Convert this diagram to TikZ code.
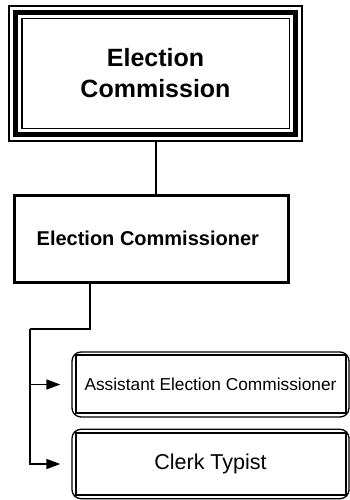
\documentclass[tikz,border=0pt]{standalone}
\usepackage{fontspec}
\setmainfont{Liberation Sans}
\usetikzlibrary{arrows.meta}
\begin{document}
\begin{tikzpicture}[x=1pt,y=-1pt,
  conn/.style={line width=1.6pt},
  arr/.style={line width=1.6pt,-{Triangle[length=14pt,width=10pt]},shorten >=11pt},
  topbox/.style={draw,line width=1.5pt,minimum width=293pt,minimum height=135pt,inner sep=0pt,align=center,font=\fontsize{25}{31}\selectfont\bfseries},
  midbox/.style={draw,line width=3pt,minimum width=274pt,minimum height=87pt,inner sep=0pt,font=\fontsize{20}{24}\selectfont\bfseries},
  outbox/.style={draw,line width=1.3pt,rounded corners=9pt,minimum width=277pt,inner sep=0pt},
  inbox/.style={line width=2pt}]
\useasboundingbox (0,0) rectangle (350,500);
% top box
\node[topbox] (top) at (155.5,73.5) {Election\\Commission};
\draw[line width=5pt] ([shift={(7,7)}]top.north west) rectangle ([shift={(-7,-7)}]top.south east);
\draw[line width=1.5pt] ([shift={(13.5,13.5)}]top.north west) rectangle ([shift={(-13.5,-13.5)}]top.south east);
% middle box
\node[midbox] (ecm) at (151.8,238.8) {\hspace*{-8pt}Election Commissioner};
% bottom boxes
\node[outbox,minimum height=65pt,font=\fontsize{17.3}{20}\selectfont] (aec) at (210.5,384.5) {Assistant Election Commissioner};
\draw[inbox] ([shift={(5,3.5)}]aec.north west) rectangle ([shift={(-3.5,-5)}]aec.south east);
\node[outbox,minimum height=69.4pt,font=\fontsize{21.5}{25}\selectfont] (clk) at (210.5,464) {Clerk Typist};
\draw[inbox] ([shift={(5,4)}]clk.north west) rectangle ([shift={(-3.5,-4.7)}]clk.south east);
% connectors
\draw[conn] (top.south -| 156,0) -- (ecm.north -| 156,0);
\coordinate (j) at (30,329);
\draw[conn] (ecm.south -| 90,0) |- (j);
\draw[arr] (j) |- (aec.west);
\draw[arr] (j) |- (clk.west);
\end{tikzpicture}
\end{document}
